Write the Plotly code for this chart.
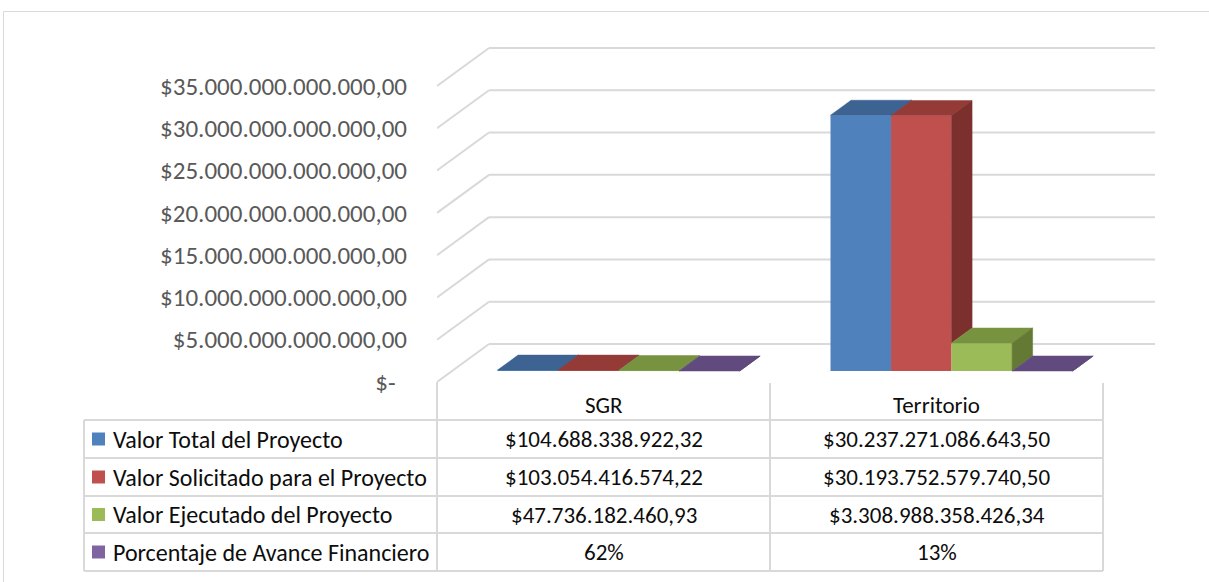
import plotly.graph_objects as go

# Datos
categorias = ["SGR", "Territorio"]
series = ["Valor Total del Proyecto", "Valor Solicitado para el Proyecto",
          "Valor Ejecutado del Proyecto", "Porcentaje de Avance Financiero"]
valor_total = [104688338922.32, 30237271086643.50]
valor_solicitado = [103054416574.22, 30193752579740.50]
valor_ejecutado = [47736182460.93, 3308988358426.34]
avance_financiero = [0.62, 0.13]
ticks_y = [0, 5e12, 10e12, 15e12, 20e12, 25e12, 30e12, 35e12]

valores = [valor_total, valor_solicitado, valor_ejecutado, avance_financiero]

colores_frente = ['#4F81BD', '#C0504D', '#9BBB59', '#8064A2']
colores_arriba = ['#3C6391', '#943B38', '#77933F', '#614A7E']
colores_lado = ['#2F4E72', '#7B302E', '#647A34', '#4F3D68']
gris = '#D9D9D9'
fuente = "Calibri, Carlito, Lato, sans-serif"

# Geometria (pixeles de pantalla)
W, H = 1209, 582
x_izq, x_der = 437, 1160     # area de trazado
y_sup, y_inf = 30, 382
L, T = x_izq, y_sup
ancho, alto = x_der - x_izq, y_inf - y_sup
R, B = W - L - ancho, H - T - alto
px_x = 333.0            # px por categoria
px_y = 42.29 / 5e12     # px por peso

DX = 52 / px_x          # profundidad del piso
DY = 38 / px_y
f_frente = 11 / 38      # cara frontal de las barras
f_barra = 0.395         # profundidad de las barras
bargap = 0.273
wb = (1 - bargap) / len(series)


def pesos(v):
    s = f"{v:,.2f}"
    return "$" + s.replace(",", "X").replace(".", ",").replace("X", ".")


def px2x(px):
    return (px - x_izq) / ancho


def px2y(py):
    return (y_inf - py) / alto


fig = go.Figure()

# Caras frontales
for j, nombre in enumerate(series):
    fig.add_trace(go.Bar(
        x=[i + f_frente * DX for i in range(len(categorias))],
        y=valores[j], base=f_frente * DY,
        marker=dict(color=colores_frente[j], line=dict(width=0)),
        name=nombre, showlegend=False, hoverinfo='skip'))

# Caras superiores y laterales
sx, sy = f_barra * DX, f_barra * DY
b0 = f_frente * DY
for i in range(len(categorias)):
    for j in range(len(series)):
        xl = i + f_frente * DX - 2 * wb + j * wb
        xr = xl + wb
        h = b0 + valores[j][i]
        fig.add_trace(go.Scatter(
            x=[xl, xr, xr + sx, xl + sx, xl], y=[h, h, h + sy, h + sy, h],
            mode='lines', fill='toself', fillcolor=colores_arriba[j],
            line=dict(width=0.5, color=colores_arriba[j]),
            showlegend=False, hoverinfo='skip'))
        sig = valores[j + 1][i] if j + 1 < len(series) else 0
        bajo = max(b0, b0 + sig)
        if h > bajo:
            fig.add_trace(go.Scatter(
                x=[xr, xr + sx, xr + sx, xr, xr],
                y=[bajo, bajo + sy, h + sy, h, bajo],
                mode='lines', fill='toself', fillcolor=colores_lado[j],
                line=dict(width=0.5, color=colores_lado[j]),
                showlegend=False, hoverinfo='skip'))

# Lineas de cuadricula (pared y piso)
x_ini = -0.5
x_fin = -0.5 + (1155 - x_izq) / px_x
shapes = []
for v in ticks_y:
    shapes.append(dict(type='line', xref='x', yref='y', layer='below',
                       x0=x_ini, y0=v, x1=x_ini + DX, y1=v + DY,
                       line=dict(color=gris, width=2)))
    shapes.append(dict(type='line', xref='x', yref='y', layer='below',
                       x0=x_ini + DX, y0=v + DY, x1=x_fin, y1=v + DY,
                       line=dict(color=gris, width=2)))

# Tabla de datos
filas = [420, 458, 496, 533, 571]
col_x = [84, 437, 770, 1103]
for yy in filas:
    shapes.append(dict(type='line', xref='paper', yref='paper',
                       x0=px2x(84), x1=px2x(1103), y0=px2y(yy), y1=px2y(yy),
                       line=dict(color=gris, width=2)))
for k, xx in enumerate(col_x):
    top = 420 if k == 0 else (382 if k == 1 else 383)
    shapes.append(dict(type='line', xref='paper', yref='paper',
                       x0=px2x(xx), x1=px2x(xx), y0=px2y(top), y1=px2y(571),
                       line=dict(color=gris, width=2)))

# Borde del grafico
shapes.append(dict(type='rect', xref='paper', yref='paper',
                   x0=px2x(3.5), x1=px2x(1220), y0=px2y(11.5), y1=px2y(600),
                   line=dict(color=gris, width=1)))

annotations = []
centros = [(col_x[1] + col_x[2]) / 2, (col_x[2] + col_x[3]) / 2]
for c, cat in enumerate(categorias):
    annotations.append(dict(xref='paper', yref='paper', x=px2x(centros[c]), y=px2y(405.5),
                            text=cat, showarrow=False, xanchor='center', yanchor='middle',
                            font=dict(family=fuente, size=23, color='#0D0D0D')))

for j, nombre in enumerate(series):
    yc = (filas[j] + filas[j + 1]) / 2
    shapes.append(dict(type='rect', xref='paper', yref='paper',
                       x0=px2x(92), x1=px2x(105), y0=px2y(yc - 6.5), y1=px2y(yc + 6.5),
                       fillcolor=colores_frente[j], line=dict(width=0)))
    annotations.append(dict(xref='paper', yref='paper', x=px2x(111), y=px2y(yc),
                            text=nombre, showarrow=False, xanchor='left', yanchor='middle',
                            font=dict(family=fuente, size=24, color='#0D0D0D')))
    for c in range(len(categorias)):
        v = valores[j][c]
        txt = f"{round(v * 100)}%" if j == 3 else pesos(v)
        annotations.append(dict(xref='paper', yref='paper', x=px2x(centros[c]), y=px2y(yc),
                                text=txt, showarrow=False, xanchor='center', yanchor='middle',
                                font=dict(family=fuente, size=23, color='#0D0D0D')))

ticktext = ["$-\u00a0\u00a0" if v == 0 else pesos(v) for v in ticks_y]

fig.update_layout(
    width=W, height=H,
    margin=dict(l=L, r=R, t=T, b=B, autoexpand=False),
    paper_bgcolor='white', plot_bgcolor='rgba(0,0,0,0)',
    barmode='group', bargap=bargap, bargroupgap=0,
    xaxis=dict(range=[-0.5, -0.5 + ancho / px_x], visible=False, fixedrange=True),
    yaxis=dict(range=[0, alto / px_y], tickvals=ticks_y, ticktext=ticktext,
               showgrid=False, zeroline=False, showline=False, ticks='',
               ticklabelstandoff=29, fixedrange=True,
               tickfont=dict(family=fuente, size=25, color='#595959')),
    shapes=shapes, annotations=annotations,
    showlegend=False,
)

# sin margen en la pagina para que el grafico empiece en la esquina
fig.write_html("out.html", config={'displayModeBar': False},
               post_script="document.body.style.margin='0px';document.body.style.overflow='hidden';")
